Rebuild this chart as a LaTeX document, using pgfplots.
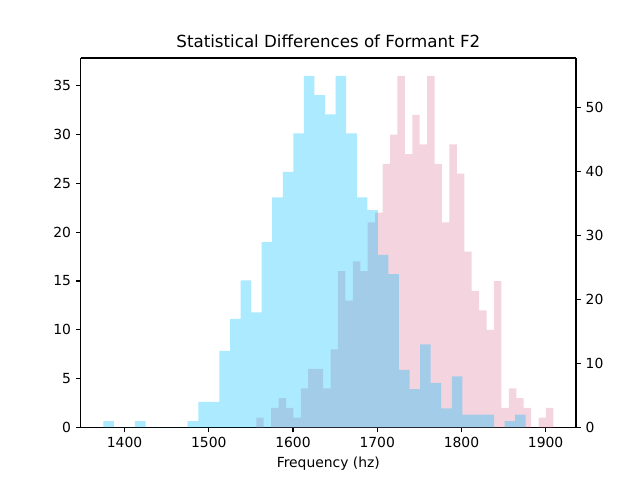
\documentclass[border=0pt]{standalone}
\usepackage{pgfplots}
\pgfplotsset{compat=1.18}
\usepackage{fontspec}
\setmainfont{DejaVu Sans}
\definecolor{pinkc}{RGB}{219,112,147}
\definecolor{bluec}{RGB}{0,191,255}
\begin{document}
\begin{tikzpicture}
\useasboundingbox (-58.1pt,-37.8pt) rectangle (402.7pt,307.8pt);
\pgfplotsset{
  common/.style={
    scale only axis, width=356.6pt, height=265.8pt,
    xmin=1347.9, xmax=1936.0, ymin=0,
    tick align=outside, major tick length=3.5pt,
    every tick/.style={black, line width=0.8pt},
    axis line style={line width=0.8pt, black},
    tick label style={font=\fontsize{10}{12}\selectfont},
    /pgf/number format/assume math mode=true,
    /pgf/number format/1000 sep={},
  }
}
\begin{axis}[common,
  ymax=37.8, ytick={0,5,...,35}, ytick pos=left,
  xtick={1400,1500,...,1900}, xtick pos=left,
  xlabel={Frequency (hz)},
  xlabel style={font=\fontsize{10}{12}\selectfont},
  title={Statistical Differences of Formant F2},
  title style={font=\fontsize{12}{14}\selectfont, yshift=-2pt},
]
\addplot[ybar interval, fill=pinkc, fill opacity=0.3, draw=none] coordinates {
(1556.4,1) (1565.2,0) (1574.0,2) (1582.9,3) (1591.7,2) (1600.5,1) (1609.3,4) (1618.1,6)
(1627.0,6) (1635.8,4) (1644.6,8) (1653.4,16) (1662.2,13) (1671.1,17) (1679.9,16) (1688.7,21)
(1697.5,22) (1706.3,27) (1715.2,30) (1724.0,36) (1732.8,28) (1741.6,32) (1750.4,29) (1759.3,36)
(1768.1,27) (1776.9,21) (1785.7,29) (1794.5,26) (1803.4,18) (1812.2,14) (1821.0,12) (1829.8,10)
(1838.6,15) (1847.5,2) (1856.3,4) (1865.1,3) (1873.9,2) (1882.7,0) (1891.6,1) (1900.4,2)
(1909.2,2)
};
\end{axis}
\begin{axis}[common,
  ymax=57.75, ytick={0,10,...,50},
  axis y line*=right, axis x line*=top, xtick=\empty,
  x axis line style={black, line width=1.6pt},
]
\addplot[ybar interval, fill=bluec, fill opacity=0.33, draw=none] coordinates {
(1374.7,1) (1387.2,0) (1399.8,0) (1412.3,1) (1424.9,0) (1437.4,0) (1449.9,0) (1462.5,0)
(1475.0,1) (1487.6,4) (1500.1,4) (1512.6,12) (1525.2,17) (1537.7,23) (1550.3,18) (1562.8,29)
(1575.3,36) (1587.9,40) (1600.4,46) (1613.0,55) (1625.5,52) (1638.0,49) (1650.6,55) (1663.1,46)
(1675.7,36) (1688.2,34) (1700.7,27) (1713.3,24) (1725.8,9) (1738.4,6) (1750.9,13) (1763.4,7)
(1776.0,3) (1788.5,8) (1801.1,2) (1813.6,2) (1826.1,2) (1838.7,0) (1851.2,1) (1863.8,2)
(1876.3,2)
};
\end{axis}
\end{tikzpicture}
\end{document}
